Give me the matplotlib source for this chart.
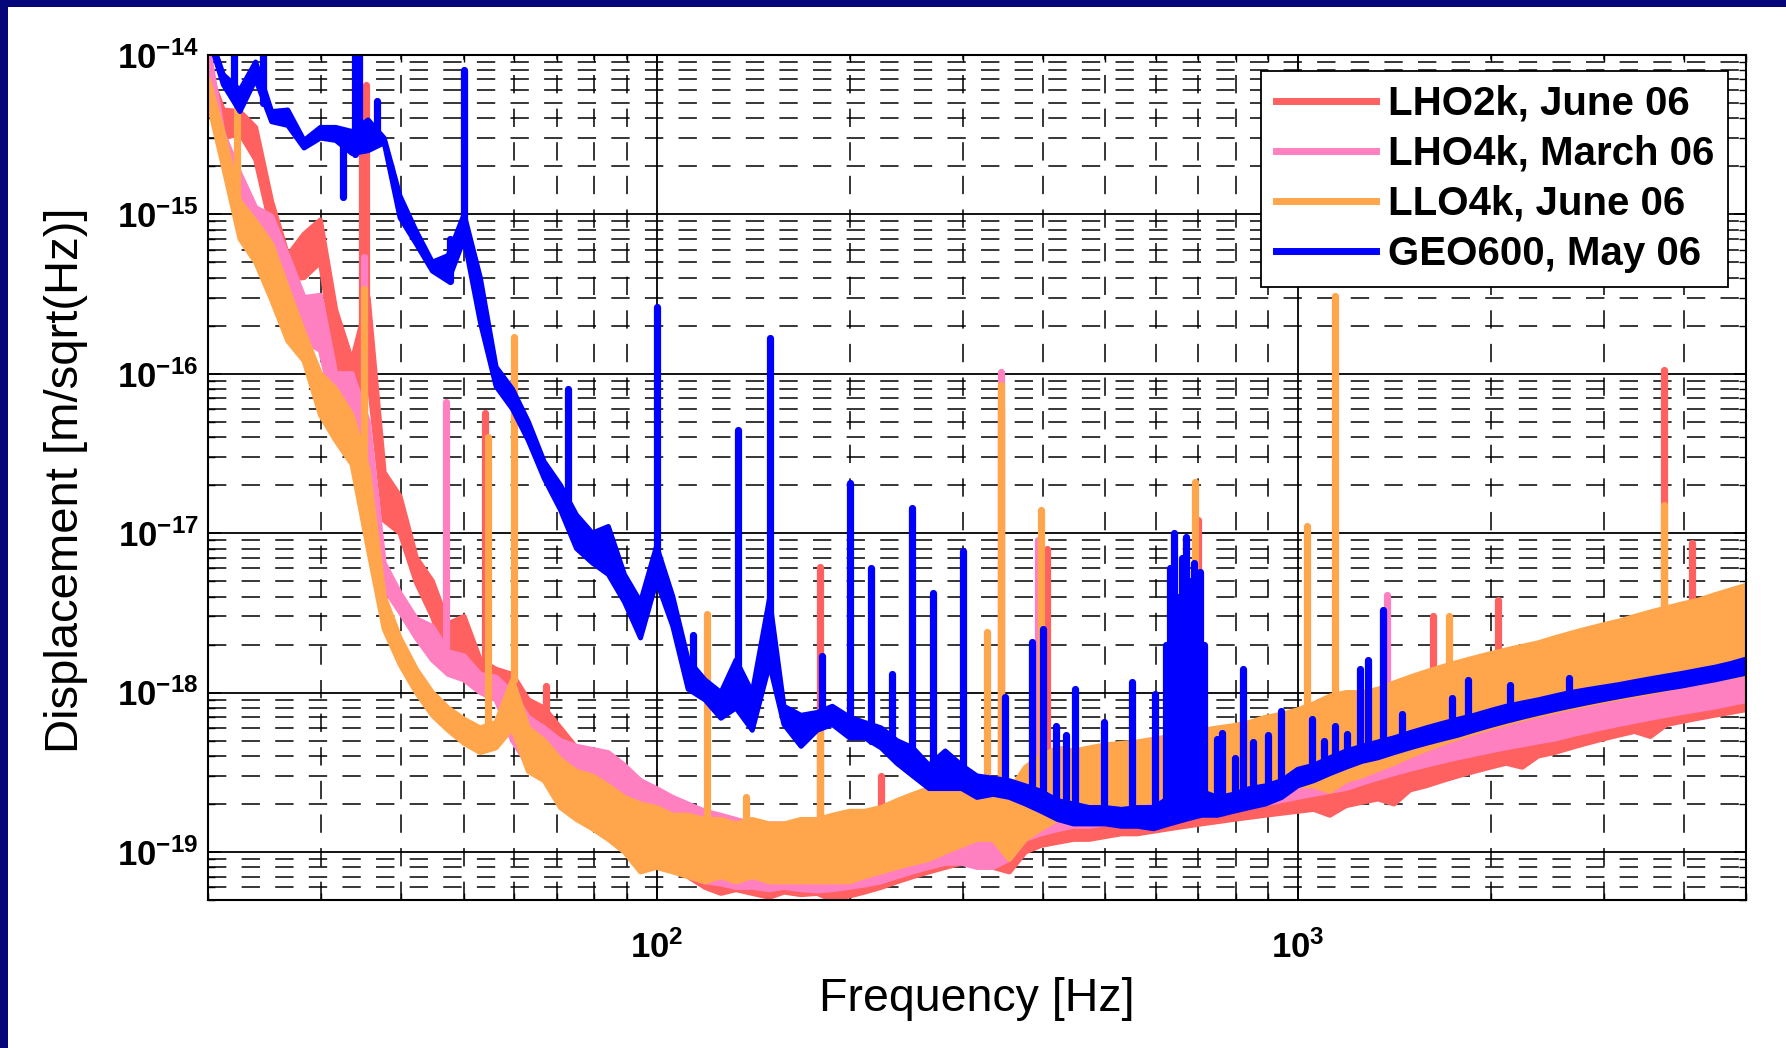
import numpy as np
import matplotlib
matplotlib.use("Agg")
import matplotlib.pyplot as plt
from matplotlib.ticker import FixedLocator, LogLocator, NullFormatter, FuncFormatter
from matplotlib.lines import Line2D
from matplotlib.patches import Rectangle

plt.rcParams['font.family'] = ['Liberation Sans', 'DejaVu Sans']
plt.rcParams['mathtext.fontset'] = 'custom'
plt.rcParams['mathtext.rm'] = 'Liberation Sans:bold'
plt.rcParams['mathtext.bf'] = 'Liberation Sans:bold'
plt.rcParams['mathtext.it'] = 'Liberation Sans:bold'
plt.rcParams['mathtext.default'] = 'rm'

# ---------------- data ----------------
# frequency nodes [Hz] shared by all four spectra
freq = [20.0, 21.1, 22.4, 23.7, 25.1, 26.6, 28.2, 29.9, 31.6, 33.5, 35.5, 37.6, 39.8, 42.2,
        44.7, 47.3, 50.1, 53.1, 56.2, 59.6, 63.1, 66.8, 70.8, 75.0, 79.4, 84.1, 89.1, 94.4,
        100, 106, 112, 119, 126, 133, 141, 150, 158, 168, 178, 188, 200, 211, 224, 237,
        251, 266, 282, 299, 316, 335, 355, 376, 398, 422, 447, 473, 501, 531, 562, 596,
        631, 668, 708, 750, 794, 841, 891, 944,
        1000, 1059, 1122, 1189, 1259, 1334, 1413, 1496, 1585, 1679, 1778, 1884, 1995, 2113,
        2239, 2371, 2512, 2661, 2818, 2985, 3162, 3350, 3548, 3758, 3981, 4217, 4467, 4732, 5000]

# LHO2k, June 06: lower / upper edge of the noise band [m/sqrt(Hz)]
lho2k_lo = [5e-15, 3e-15, 3.2e-15, 2.2e-15, 8e-16, 3.9e-16, 4e-16, 5e-16, 1.2e-16, 6e-17, 1e-16, 1.2e-17, 1e-17, 4.9e-18,
            3e-18, 1.6e-18, 1.5e-18, 1.2e-18, 1.1e-18, 8e-19, 5e-19, 4.5e-19, 3.5e-19, 3e-19, 2.6e-19, 2.2e-19, 1.8e-19, 1.2e-19,
            9e-20, 8e-20, 7e-20, 6e-20, 5.5e-20, 5.8e-20, 5.5e-20, 5.2e-20, 5.6e-20, 5.4e-20, 5.5e-20, 5.0e-20, 5.3e-20, 5.6e-20, 6e-20, 6.5e-20,
            7e-20, 7.5e-20, 8e-20, 8.5e-20, 8.5e-20, 8e-20, 7.5e-20, 1e-19, 1.1e-19, 1.15e-19, 1.2e-19, 1.2e-19, 1.25e-19, 1.3e-19, 1.3e-19, 1.35e-19,
            1.4e-19, 1.45e-19, 1.5e-19, 1.55e-19, 1.6e-19, 1.65e-19, 1.7e-19, 1.75e-19,
            1.8e-19, 1.85e-19, 1.7e-19, 1.95e-19, 2.05e-19, 2.15e-19, 2.0e-19, 2.45e-19, 2.6e-19, 2.8e-19, 3.0e-19, 3.2e-19, 3.4e-19, 3.6e-19,
            3.4e-19, 4.0e-19, 4.2e-19, 4.5e-19, 4.8e-19, 5.1e-19, 5.4e-19, 5.7e-19, 5.3e-19, 6.3e-19, 6.6e-19, 6.9e-19, 7.2e-19, 7.5e-19, 7.8e-19]
lho2k_hi = [8e-15, 4.5e-15, 4.4e-15, 3.5e-15, 1.2e-15, 5.5e-16, 7.5e-16, 9.2e-16, 2.5e-16, 1.2e-16, 3e-16, 2.4e-17, 1.7e-17, 7e-18,
            5e-18, 2.7e-18, 3e-18, 1.6e-18, 1.4e-18, 1.3e-18, 9e-19, 8e-19, 6e-19, 4.5e-19, 4e-19, 3.8e-19, 3.3e-19, 2.8e-19,
            2.4e-19, 2.0e-19, 1.7e-19, 1.5e-19, 1.4e-19, 1.4e-19, 1.4e-19, 1.4e-19, 1.4e-19, 1.4e-19, 1.4e-19, 1.4e-19, 1.4e-19, 1.45e-19, 1.5e-19, 1.6e-19,
            1.7e-19, 1.8e-19, 1.9e-19, 2.0e-19, 2.1e-19, 2.0e-19, 1.9e-19, 2.1e-19, 2.3e-19, 2.4e-19, 2.5e-19, 2.6e-19, 2.7e-19, 2.8e-19, 2.9e-19, 3.0e-19,
            3.1e-19, 3.2e-19, 3.3e-19, 3.4e-19, 3.5e-19, 3.6e-19, 3.7e-19, 3.8e-19,
            3.9e-19, 4.0e-19, 4.1e-19, 4.2e-19, 4.4e-19, 4.6e-19, 4.8e-19, 5.0e-19, 5.3e-19, 5.6e-19, 5.9e-19, 6.2e-19, 6.5e-19, 6.8e-19,
            7.1e-19, 7.4e-19, 7.7e-19, 8.0e-19, 8.3e-19, 8.6e-19, 9.0e-19, 9.4e-19, 9.8e-19, 1.02e-18, 1.06e-18, 1.1e-18, 1.15e-18, 1.2e-18, 1.25e-18]

# LHO4k, March 06
lho4k_lo = [6e-15, 2.2e-15, 1.3e-15, 8.5e-16, 6.5e-16, 4e-16, 1.6e-16, 1.4e-16, 5.4e-17, 4.9e-17, 1e-17, 4.5e-18, 3.2e-18, 2.2e-18,
            1.6e-18, 1.3e-18, 1.2e-18, 1.0e-18, 9e-19, 5e-19, 3.5e-19, 3.2e-19, 2.8e-19, 2.5e-19, 2.2e-19, 1.7e-19, 1.4e-19, 1.1e-19,
            9e-20, 8e-20, 7e-20, 6.5e-20, 6.3e-20, 6.0e-20, 6.0e-20, 5.8e-20, 6.0e-20, 5.8e-20, 5.7e-20, 5.8e-20, 6.0e-20, 6.2e-20, 6.5e-20, 7.0e-20,
            7.5e-20, 8.0e-20, 8.5e-20, 8.5e-20, 8.0e-20, 8.0e-20, 9.0e-20, 1.2e-19, 1.3e-19, 1.38e-19, 1.45e-19, 1.45e-19, 1.5e-19, 1.55e-19, 1.55e-19, 1.6e-19,
            1.65e-19, 1.7e-19, 1.8e-19, 1.85e-19, 1.9e-19, 1.95e-19, 2.0e-19, 2.1e-19,
            2.2e-19, 2.3e-19, 2.4e-19, 2.5e-19, 2.7e-19, 2.9e-19, 3.1e-19, 3.3e-19, 3.5e-19, 3.7e-19, 3.9e-19, 4.1e-19, 4.3e-19, 4.5e-19,
            4.7e-19, 4.9e-19, 5.1e-19, 5.4e-19, 5.7e-19, 6.0e-19, 6.3e-19, 6.6e-19, 6.9e-19, 7.2e-19, 7.5e-19, 7.8e-19, 8.1e-19, 8.5e-19, 8.9e-19]
lho4k_hi = [1.1e-14, 3.2e-15, 1.8e-15, 1.1e-15, 9.7e-16, 5.5e-16, 3e-16, 3.1e-16, 1e-16, 1e-16, 5e-17, 6.5e-18, 4.2e-18, 2.9e-18,
            2.6e-18, 1.8e-18, 1.7e-18, 1.3e-18, 1.25e-18, 1.0e-18, 7e-19, 6e-19, 5e-19, 4.6e-19, 4.4e-19, 4.2e-19, 3.5e-19, 2.8e-19,
            2.5e-19, 2.2e-19, 2.0e-19, 1.8e-19, 1.7e-19, 1.6e-19, 1.5e-19, 1.5e-19, 1.5e-19, 1.5e-19, 1.5e-19, 1.5e-19, 1.5e-19, 1.55e-19, 1.6e-19, 1.7e-19,
            1.8e-19, 1.9e-19, 2.0e-19, 2.1e-19, 2.2e-19, 2.0e-19, 2.0e-19, 2.2e-19, 2.4e-19, 2.5e-19, 2.6e-19, 2.7e-19, 2.8e-19, 2.9e-19, 3.0e-19, 3.1e-19,
            3.2e-19, 3.3e-19, 3.4e-19, 3.5e-19, 3.6e-19, 3.7e-19, 3.8e-19, 3.9e-19,
            4.0e-19, 4.2e-19, 4.4e-19, 4.6e-19, 4.8e-19, 5.0e-19, 5.2e-19, 5.5e-19, 5.8e-19, 6.1e-19, 6.4e-19, 6.7e-19, 7.0e-19, 7.3e-19,
            7.6e-19, 7.9e-19, 8.2e-19, 8.5e-19, 8.8e-19, 9.2e-19, 9.6e-19, 1.0e-18, 1.04e-18, 1.08e-18, 1.12e-18, 1.16e-18, 1.2e-18, 1.25e-18, 1.3e-18]

# LLO4k, June 06
llo4k_lo = [5e-15, 2.0e-15, 7e-16, 5e-16, 2.9e-16, 1.6e-16, 1.2e-16, 5.5e-17, 3.8e-17, 2.7e-17, 8e-18, 2.5e-18, 1.5e-18, 1.0e-18,
            7.2e-19, 5.8e-19, 4.8e-19, 4.2e-19, 4.5e-19, 6e-19, 3.2e-19, 2.8e-19, 1.9e-19, 1.6e-19, 1.4e-19, 1.2e-19, 1.0e-19, 7.5e-20,
            8e-20, 7.5e-20, 7e-20, 6.5e-20, 7e-20, 6.5e-20, 7e-20, 6.5e-20, 6.5e-20, 6.5e-20, 6.5e-20, 6.5e-20, 6.5e-20, 7e-20, 7.5e-20, 8e-20,
            8.5e-20, 9e-20, 1.0e-19, 1.1e-19, 1.2e-19, 1.2e-19, 9e-20, 1.2e-19, 1.4e-19, 1.6e-19, 1.6e-19, 1.7e-19, 1.8e-19, 1.9e-19, 2.0e-19, 2.1e-19,
            2.1e-19, 2.1e-19, 2.2e-19, 2.2e-19, 2.3e-19, 2.3e-19, 2.4e-19, 2.5e-19,
            2.6e-19, 2.6e-19, 2.4e-19, 2.8e-19, 3.0e-19, 3.3e-19, 3.6e-19, 4.0e-19, 4.4e-19, 4.8e-19, 5.2e-19, 5.6e-19, 6.0e-19, 6.4e-19,
            6.8e-19, 7.2e-19, 7.6e-19, 8.0e-19, 8.4e-19, 8.8e-19, 9.2e-19, 9.6e-19, 1.0e-18, 1.05e-18, 1.1e-18, 1.15e-18, 1.2e-18, 1.25e-18, 1.3e-18]
llo4k_hi = [7e-15, 3.2e-15, 1.2e-15, 9e-16, 6.5e-16, 3.4e-16, 1.8e-16, 1.0e-16, 8e-17, 5.5e-17, 2.5e-17, 4e-18, 2.2e-18, 1.4e-18,
            1.0e-18, 8e-19, 6.8e-19, 6e-19, 6.5e-19, 1.2e-18, 6e-19, 5e-19, 3.8e-19, 3.2e-19, 3.0e-19, 2.6e-19, 2.2e-19, 2.0e-19,
            1.9e-19, 1.7e-19, 1.7e-19, 1.6e-19, 1.6e-19, 1.5e-19, 1.6e-19, 1.5e-19, 1.5e-19, 1.6e-19, 1.6e-19, 1.7e-19, 1.8e-19, 1.8e-19, 1.9e-19, 2.1e-19,
            2.3e-19, 2.5e-19, 2.7e-19, 2.9e-19, 3.0e-19, 2.6e-19, 2.4e-19, 3.4e-19, 4.0e-19, 4.5e-19, 4.3e-19, 4.5e-19, 4.7e-19, 4.8e-19, 4.9e-19, 5.1e-19,
            5.3e-19, 5.5e-19, 5.8e-19, 6.0e-19, 6.2e-19, 6.5e-19, 7.0e-19, 7.3e-19,
            7.8e-19, 8.5e-19, 9.5e-19, 1.0e-18, 1.0e-18, 1.05e-18, 1.15e-18, 1.25e-18, 1.35e-18, 1.45e-18, 1.55e-18, 1.65e-18, 1.75e-18, 1.85e-18,
            1.95e-18, 2.05e-18, 2.2e-18, 2.35e-18, 2.5e-18, 2.65e-18, 2.8e-18, 3.0e-18, 3.2e-18, 3.4e-18, 3.6e-18, 3.8e-18, 4.1e-18, 4.4e-18, 4.7e-18]

# GEO600, May 06
geo_lo = [1.3e-14, 6.5e-15, 4.4e-15, 7e-15, 3.8e-15, 3.6e-15, 2.6e-15, 3.0e-15, 2.9e-15, 2.4e-15, 2.5e-15, 2.8e-15, 9.5e-16, 6.5e-16,
          4.4e-16, 3.8e-16, 7e-16, 2.1e-16, 8.3e-17, 6.0e-17, 3.8e-17, 2.2e-17, 1.4e-17, 8e-18, 6.5e-18, 5.5e-18, 3.7e-18, 2.2e-18,
          5e-18, 2.6e-18, 1.05e-18, 9e-19, 6.9e-19, 8e-19, 5.8e-19, 1.5e-18, 6.3e-19, 4.6e-19, 5.8e-19, 6.3e-19, 5.2e-19, 5.2e-19, 4.5e-19, 3.6e-19,
          3.0e-19, 2.5e-19, 2.5e-19, 2.5e-19, 2.2e-19, 2.3e-19, 2.2e-19, 2.0e-19, 1.8e-19, 1.6e-19, 1.5e-19, 1.5e-19, 1.5e-19, 1.45e-19, 1.45e-19, 1.4e-19,
          1.5e-19, 1.6e-19, 1.7e-19, 1.7e-19, 1.8e-19, 1.9e-19, 2.0e-19, 2.2e-19,
          2.6e-19, 2.8e-19, 3.1e-19, 3.4e-19, 3.7e-19, 3.9e-19, 4.2e-19, 4.5e-19, 4.8e-19, 5.1e-19, 5.4e-19, 5.8e-19, 6.2e-19, 6.6e-19,
          7.0e-19, 7.4e-19, 7.8e-19, 8.2e-19, 8.6e-19, 9.0e-19, 9.4e-19, 9.8e-19, 1.02e-18, 1.06e-18, 1.1e-18, 1.15e-18, 1.2e-18, 1.26e-18, 1.32e-18]
geo_hi = [1.4e-14, 7.5e-15, 6e-15, 9e-15, 4.4e-15, 4.5e-15, 2.9e-15, 3.5e-15, 3.5e-15, 3.3e-15, 3.9e-15, 3.0e-15, 1.3e-15, 7.8e-16,
          5.0e-16, 5.5e-16, 1.0e-15, 4e-16, 1.1e-16, 8e-17, 5e-17, 2.8e-17, 2.0e-17, 1.3e-17, 1.0e-17, 1.1e-17, 5.5e-18, 3.7e-18,
          8.3e-18, 4e-18, 1.6e-18, 1.2e-18, 1.0e-18, 1.6e-18, 1.0e-18, 3.9e-18, 8.2e-19, 7.2e-19, 7.5e-19, 8.2e-19, 7e-19, 6.5e-19, 6e-19, 5e-19,
          4.5e-19, 3.5e-19, 4.3e-19, 3.5e-19, 3.0e-19, 2.9e-19, 2.8e-19, 2.6e-19, 2.4e-19, 2.1e-19, 2.0e-19, 1.9e-19, 1.9e-19, 1.85e-19, 1.9e-19, 1.9e-19,
          2.2e-19, 2.4e-19, 2.4e-19, 2.2e-19, 2.3e-19, 2.5e-19, 2.6e-19, 2.8e-19,
          3.3e-19, 3.5e-19, 3.9e-19, 4.3e-19, 4.6e-19, 4.9e-19, 5.2e-19, 5.6e-19, 6.0e-19, 6.4e-19, 6.8e-19, 7.2e-19, 7.7e-19, 8.2e-19,
          8.6e-19, 9.0e-19, 9.5e-19, 1.0e-18, 1.04e-18, 1.08e-18, 1.12e-18, 1.17e-18, 1.22e-18, 1.27e-18, 1.32e-18, 1.38e-18, 1.44e-18, 1.52e-18, 1.62e-18]

# narrow lines: (frequency [Hz], foot, tip) [m/sqrt(Hz)]
lho2k_lines = [(34.7, 2e-16, 4e-15), (35.2, 2e-16, 6.5e-15), (54.0, 1.4e-18, 5.7e-17), (67.3, 6e-19, 1.1e-18),
               (180, 1.4e-19, 6.1e-18), (224, 1.5e-19, 3e-19), (345, 2e-19, 6e-17), (406, 2.3e-19, 8e-18),
               (698, 3.3e-19, 1.2e-17), (1627, 5e-19, 3e-18), (2054, 6.5e-19, 3.8e-18), (3727, 9e-19, 1.06e-16),
               (4116, 1e-18, 8.7e-18)]
lho4k_lines = [(35.0, 5e-17, 5.4e-16), (46.9, 1.8e-18, 6.6e-17), (345, 2e-19, 1.03e-16), (393, 2.4e-19, 9e-18),
               (1377, 5e-19, 4.1e-18)]
llo4k_lines = [(22.2, 1e-15, 4.7e-15), (35.0, 2.5e-17, 3.4e-16), (54.6, 6e-19, 4e-17), (60.0, 1.2e-18, 1.7e-16),
               (120, 1.6e-19, 3.1e-18), (138, 1.5e-19, 2.2e-19), (180, 1.6e-19, 7e-19), (328, 3e-19, 2.4e-18),
               (345, 2.6e-19, 8.5e-17), (397, 4e-19, 1.4e-17), (692, 5.5e-19, 2.1e-17), (1034, 8e-19, 1.1e-17),
               (1144, 9.5e-19, 3.07e-16), (1721, 1.5e-18, 3e-18), (3727, 3.3e-18, 1.5e-17)]
geo_lines = [(21.9, 6e-15, 2e-14), (24.3, 5e-15, 2e-14), (32.4, 1.28e-15, 3e-15), (33.8, 2.4e-15, 2e-14),
             (34.4, 3e-15, 2e-14), (36.7, 3e-15, 5.1e-15), (47.7, 3.8e-16, 7e-16), (50.0, 7e-16, 8e-15),
             (72.8, 1.6e-17, 8e-17), (100, 5e-18, 2.6e-16), (114, 1.1e-18, 2.3e-18), (134, 8e-19, 4.4e-17),
             (150, 1.5e-18, 1.67e-16), (181, 7e-19, 1.7e-18), (200, 6e-19, 2.05e-17), (216, 5e-19, 6e-18),
             (233, 4e-19, 1.3e-18), (250, 3.5e-19, 1.43e-17), (270, 3e-19, 4.2e-18), (300, 3e-19, 7.7e-18),
             (350, 2.5e-19, 9.4e-19), (385, 2.3e-19, 2.06e-18), (400, 2.2e-19, 2.5e-18), (420, 2e-19, 6.2e-19),
             (435, 1.9e-19, 5.4e-19), (450, 1.9e-19, 1.05e-18), (499, 1.8e-19, 6.5e-19), (551, 1.8e-19, 1.16e-18),
             (599, 1.8e-19, 9.8e-19), (624, 1.8e-19, 2e-18), (632, 1.8e-19, 6e-18), (641, 2e-19, 1e-17),
             (650, 2e-19, 4e-18), (659, 2e-19, 7e-18), (669, 2e-19, 9.5e-18), (678, 2e-19, 5e-18),
             (688, 2e-19, 6.5e-18), (696, 2e-19, 3e-18), (705, 2e-19, 5.7e-18), (714, 2e-19, 2e-18),
             (749, 2e-19, 5.1e-19), (762, 2e-19, 5.6e-19), (799, 2.1e-19, 3.9e-19), (822, 2.2e-19, 1.4e-18),
             (850, 2.2e-19, 4.9e-19), (900, 2.4e-19, 5.4e-19), (941, 2.5e-19, 7.7e-19), (1054, 3e-19, 6.8e-19),
             (1098, 3.3e-19, 5e-19), (1144, 3.5e-19, 6.2e-19), (1195, 3.8e-19, 5.5e-19), (1252, 4e-19, 1.4e-18),
             (1288, 4.2e-19, 1.6e-18), (1357, 4.5e-19, 3.3e-18), (1454, 5e-19, 7.3e-19), (1740, 6e-19, 9.3e-19),
             (1845, 6.3e-19, 1.19e-18), (2146, 7.5e-19, 1.12e-18), (2648, 9e-19, 1.23e-18)]

labels = ['LHO2k, June 06', 'LHO4k, March 06', 'LLO4k, June 06', 'GEO600, May 06']
colors = ['#FF6060', '#FF80C0', '#FFA64D', '#0000FF']

x_ticks = [100, 1000]
x_ticklabels = [r'$10^{2}$', r'$10^{3}$']
xlim = (20, 5000)
ylim = (5e-20, 1e-14)

# ---------------- figure ----------------
W, H = 1786, 1048
fig = plt.figure(figsize=(W / 100, H / 100), dpi=100)
fig.patch.set_facecolor('white')
navy = '#06067A'
fig.patches.append(Rectangle((0, 1 - 7 / H), 1, 7 / H, transform=fig.transFigure,
                             facecolor=navy, edgecolor='none', zorder=0))
fig.patches.append(Rectangle((0, 0), 8 / W, 1, transform=fig.transFigure,
                             facecolor=navy, edgecolor='none', zorder=0))

ax = fig.add_axes([208.4 / W, (H - 900) / H, 1537.6 / W, 845.3 / H])
ax.set_xscale('log')
ax.set_yscale('log')
ax.set_xlim(*xlim)
ax.set_ylim(*ylim)
ax.set_axisbelow(True)

series = [(lho2k_lo, lho2k_hi, lho2k_lines), (lho4k_lo, lho4k_hi, lho4k_lines),
          (llo4k_lo, llo4k_hi, llo4k_lines), (geo_lo, geo_hi, geo_lines)]
for i, ((lo, hi, lines), c) in enumerate(zip(series, colors)):
    assert len(lo) == len(freq) and len(hi) == len(freq)
    z = 3 + i
    ax.fill_between(freq, lo, hi, color=c, lw=0, zorder=z)
    ax.plot(freq, lo, color=c, lw=3.6, zorder=z, solid_joinstyle='round', solid_capstyle='round')
    ax.plot(freq, hi, color=c, lw=3.6, zorder=z, solid_joinstyle='round', solid_capstyle='round')
    lf = [t[0] for t in lines]
    lb = [t[1] for t in lines]
    lt = [t[2] for t in lines]
    ax.vlines(lf, lb, lt, colors=c, lw=5.2, zorder=z, capstyle='round')

# ticks & grid
ax.xaxis.set_major_locator(FixedLocator(x_ticks))
ax.xaxis.set_minor_locator(LogLocator(base=10, subs=np.arange(2, 10), numticks=50))
ax.xaxis.set_minor_formatter(NullFormatter())
ax.set_xticklabels(x_ticklabels)
ax.yaxis.set_major_locator(LogLocator(base=10, numticks=50))
ax.yaxis.set_minor_locator(LogLocator(base=10, subs=np.arange(2, 10), numticks=50))
ax.yaxis.set_minor_formatter(NullFormatter())
ax.yaxis.set_major_formatter(FuncFormatter(lambda v, p: r'$10^{%d}$' % int(round(np.log10(v)))))

ax.grid(True, which='major', color='black', lw=1.3, ls='-')
ax.grid(True, which='minor', color='black', lw=1.1, ls=(0, (12, 10)))
ax.tick_params(which='both', direction='in', top=True, right=True, color='black')
ax.tick_params(which='major', length=9, width=1.2)
ax.tick_params(which='minor', length=5, width=1.0)
ax.tick_params(axis='x', which='major', labelsize=25, pad=22)
ax.tick_params(axis='y', which='major', labelsize=25, pad=7)
for s in ax.spines.values():
    s.set_linewidth(1.5)
    s.set_color('black')
    s.set_zorder(10)

fig.text(977 / W, 1 - 999 / H, 'Frequency [Hz]', fontsize=33.5, ha='center', va='center')
fig.text(66 / W, 1 - 480 / H, 'Displacement [m/sqrt(Hz)]', fontsize=34, rotation=90, ha='center', va='center')

handles = [Line2D([0], [0], color=c, lw=5) for c in colors]
leg = ax.legend(handles, labels, loc='upper right', bbox_to_anchor=(1 - 18 / 1537.6, 1 - 16 / 845.3),
                borderaxespad=0, frameon=True, fancybox=False, edgecolor='black', framealpha=1,
                prop={'weight': 'bold', 'size': 29}, handlelength=2.5, handletextpad=0.28,
                labelspacing=0.3, borderpad=0.35)
leg.get_frame().set_linewidth(1.3)
leg.set_zorder(20)

fig.savefig('out.png', dpi=100, facecolor='white')
